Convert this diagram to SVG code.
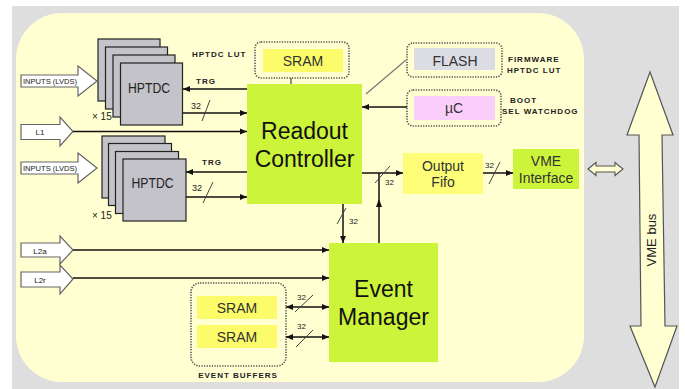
<svg xmlns="http://www.w3.org/2000/svg" width="685" height="389" viewBox="0 0 685 389">
<defs>
<marker id="ah" markerUnits="userSpaceOnUse" markerWidth="8" markerHeight="7" refX="7" refY="3.5" orient="auto-start-reverse"><path d="M0,0.5 L7,3.5 L0,6.5 Z" fill="#111"/></marker>
<style>
.lab{font-family:"Liberation Sans",Arial,sans-serif;fill:#222}
.big{font-size:23px;text-anchor:middle;fill:#111}
.mid{font-size:14px;text-anchor:middle;fill:#333}
.sm{font-size:8px;font-weight:bold;letter-spacing:1px}
.num{font-size:9px}
.tdc{fill:#c3c3c9;stroke:#222;stroke-width:1.2}
.inarrow{fill:#fff;stroke:#666;stroke-width:1.2}
.green{fill:#ccf43a}
.yel{fill:#fcfc6a}
.dot{fill:none;stroke:#555;stroke-width:1.6;stroke-dasharray:1.3 1.3}
.wire{stroke:#111;stroke-width:1.5;fill:none}
.slash{stroke:#444;stroke-width:1;fill:none}
</style>
</defs>
<rect x="0" y="0" width="685" height="389" fill="#fff"/>
<rect x="12" y="6" width="667" height="383" fill="#dedede"/>
<rect x="16" y="13" width="568" height="369" rx="46" ry="46" fill="#ffffd2"/>

<g id="hptdc1">
<rect class="tdc" x="98" y="39" width="62" height="62"/>
<rect class="tdc" x="105.5" y="47" width="62" height="62"/>
<rect class="tdc" x="113" y="55" width="62" height="62"/>
<rect class="tdc" x="120.5" y="63" width="62" height="62"/>
<text class="lab" x="149" y="93" font-size="14" text-anchor="middle" textLength="42" lengthAdjust="spacingAndGlyphs">HPTDC</text>
<text class="lab" x="92" y="120" font-size="10">× 15</text>
</g>
<g id="hptdc2">
<rect class="tdc" x="102" y="136" width="63" height="62"/>
<rect class="tdc" x="108.5" y="143.5" width="63" height="62"/>
<rect class="tdc" x="115.5" y="151.5" width="63" height="62"/>
<rect class="tdc" x="123" y="159" width="63" height="62"/>
<text class="lab" x="152.5" y="188" font-size="14" text-anchor="middle" textLength="42" lengthAdjust="spacingAndGlyphs">HPTDC</text>
<text class="lab" x="92" y="219" font-size="10">× 15</text>
</g>

<g id="in1">
<path class="inarrow" d="M21,75 H78 V66 L97,81 L78,96 V87 H21 Z"/>
<text class="lab" x="23" y="84" font-size="7.5" textLength="54" lengthAdjust="spacingAndGlyphs">INPUTS (LVDS)</text>
</g>
<g id="in2">
<path class="inarrow" d="M21,162 H78 V153 L97,168 L78,183 V174 H21 Z"/>
<text class="lab" x="23" y="171" font-size="7.5" textLength="54" lengthAdjust="spacingAndGlyphs">INPUTS (LVDS)</text>
</g>
<g id="l1">
<path class="inarrow" d="M21,124.5 H60 V117 L73,131.5 L60,146 V139.5 H21 Z"/>
<text class="lab" x="40" y="135" font-size="8" text-anchor="middle">L1</text>
</g>
<g id="l2a">
<path class="inarrow" d="M21,243 H60 V236 L73,250 L60,264 V257 H21 Z"/>
<text class="lab" x="40" y="253.5" font-size="8" text-anchor="middle">L2a</text>
</g>
<g id="l2r">
<path class="inarrow" d="M21,272 H60 V265 L73,279 L60,294 V287 H21 Z"/>
<text class="lab" x="40" y="282.5" font-size="8" text-anchor="middle">L2r</text>
</g>

<g id="sram-lut">
<rect class="dot" x="255" y="42" width="94" height="36" rx="6"/>
<rect class="yel" x="263" y="49" width="80" height="23"/>
<text class="lab mid" x="303" y="66">SRAM</text>
<text class="lab sm" x="192" y="57">HPTDC LUT</text>
</g>
<g id="flash">
<rect class="dot" x="407" y="43" width="95" height="34" rx="6"/>
<rect x="414" y="48" width="81" height="22" fill="#dcdce4"/>
<text class="lab mid" x="455" y="65.5">FLASH</text>
<text class="lab sm" x="508" y="62">FIRMWARE</text>
<text class="lab sm" x="507" y="73">HPTDC LUT</text>
</g>
<g id="uc">
<rect class="dot" x="407" y="90" width="94" height="36" rx="6"/>
<rect x="414" y="96" width="81" height="24" fill="#fbcdfb"/>
<text class="lab mid" x="454" y="113">µC</text>
<text class="lab sm" x="510" y="103">BOOT</text>
<text class="lab sm" x="502" y="114">SEL WATCHDOG</text>
</g>

<g id="readout">
<rect class="green" x="247" y="84" width="115" height="120"/>
<text class="lab big" x="304.5" y="139">Readout</text>
<text class="lab big" x="304.5" y="167">Controller</text>
</g>
<g id="eventmgr">
<rect class="green" x="329" y="243" width="109" height="119"/>
<text class="lab big" x="383.5" y="297">Event</text>
<text class="lab big" x="383.5" y="325">Manager</text>
</g>
<g id="fifo">
<rect x="403" y="153" width="80" height="41" fill="#fdfd78"/>
<text class="lab mid" x="443" y="171">Output</text>
<text class="lab mid" x="443" y="187">Fifo</text>
</g>
<g id="vmeif">
<rect class="green" x="513" y="149" width="66" height="40"/>
<text class="lab mid" x="546" y="166">VME</text>
<text class="lab mid" x="546" y="183">Interface</text>
</g>
<g id="buffers">
<rect class="dot" x="191" y="283" width="95" height="83" rx="9"/>
<rect class="yel" x="197" y="296" width="80" height="23"/>
<rect class="yel" x="197" y="325" width="80" height="23"/>
<text class="lab mid" x="237" y="313">SRAM</text>
<text class="lab mid" x="237" y="342">SRAM</text>
<text class="lab sm" x="238" y="378" text-anchor="middle">EVENT BUFFERS</text>
</g>
<g id="vmebus">
<path d="M650,72 L673,135 L662,135 L665,326 L677,326 L655,387 L630,326 L641,326 L639,135 L627,135 Z" fill="#ffffd2" stroke="#555" stroke-width="1.2"/>
<text class="lab" x="0" y="0" font-size="13" text-anchor="middle" transform="translate(656,240) rotate(-90)">VME bus</text>
</g>

<g id="connectors">
<line class="wire" x1="247" y1="89" x2="183" y2="89" marker-end="url(#ah)"/>
<line class="wire" x1="183" y1="113" x2="247" y2="113" marker-end="url(#ah)"/>
<line class="wire" x1="247" y1="172" x2="186" y2="172" marker-end="url(#ah)"/>
<line class="wire" x1="186" y1="197" x2="247" y2="197" marker-end="url(#ah)"/>
<line class="wire" x1="73" y1="131.5" x2="247" y2="131.5" marker-end="url(#ah)"/>
<line class="wire" x1="73" y1="250" x2="329" y2="250" marker-end="url(#ah)"/>
<line class="wire" x1="73" y1="278" x2="329" y2="278" marker-end="url(#ah)"/>
<line class="wire" x1="407" y1="107" x2="362" y2="107" marker-end="url(#ah)"/>
<line x1="406" y1="60" x2="366" y2="94" stroke="#777" stroke-width="1.2"/>
<line x1="291" y1="78" x2="291" y2="84" stroke="#444" stroke-width="1.2"/>
<line class="wire" x1="362" y1="173" x2="403" y2="173" marker-end="url(#ah)"/>
<line class="wire" x1="379" y1="243" x2="379" y2="173"/>
<path d="M379,199 L382,207 L376,207 Z" fill="#111"/>
<line class="wire" x1="343" y1="204" x2="343" y2="243" marker-end="url(#ah)"/>
<line class="wire" x1="483" y1="173" x2="513" y2="173" marker-end="url(#ah)"/>
<line class="wire" x1="286" y1="307" x2="329" y2="307" marker-start="url(#ah)" marker-end="url(#ah)"/>
<line class="wire" x1="286" y1="337" x2="329" y2="337" marker-start="url(#ah)" marker-end="url(#ah)"/>
<path d="M588,169 L596,162.5 V166 H615 V162.5 L623,169 L615,175.5 V172 H596 V175.5 Z" fill="#ffffd2" stroke="#555" stroke-width="1.1"/>
<line class="slash" x1="202" y1="121" x2="210" y2="100"/>
<line class="slash" x1="203" y1="203" x2="213" y2="182"/>
<line class="slash" x1="375" y1="183" x2="390" y2="166"/>
<line class="slash" x1="337" y1="224" x2="346" y2="208"/>
<line class="slash" x1="489" y1="184" x2="500" y2="162"/>
<line class="slash" x1="295" y1="312" x2="313" y2="295"/>
<line class="slash" x1="296" y1="347" x2="313" y2="330"/>
<text class="lab sm" x="196" y="84" letter-spacing="0.5">TRG</text>
<text class="lab sm" x="202" y="165" letter-spacing="0.5">TRG</text>
<text class="lab num" x="191" y="109">32</text>
<text class="lab num" x="192" y="191">32</text>
<text class="lab" x="385" y="185" font-size="8">32</text>
<text class="lab" x="349" y="224" font-size="8">32</text>
<text class="lab" x="485" y="168" font-size="8">32</text>
<text class="lab" x="297" y="300" font-size="8">32</text>
<text class="lab" x="297" y="329" font-size="8">32</text>
</g>
</svg>
